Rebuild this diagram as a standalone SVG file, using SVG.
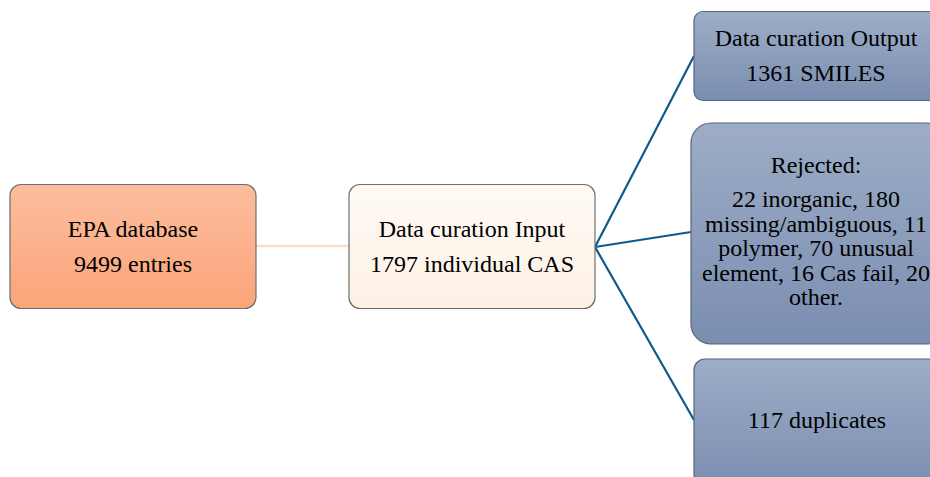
<svg xmlns="http://www.w3.org/2000/svg" width="930" height="477" viewBox="0 0 930 477">
<defs>
<linearGradient id="gOrange" x1="0" y1="0" x2="0" y2="1">
<stop offset="0" stop-color="#FDBD9D"/>
<stop offset="1" stop-color="#FBA47A"/>
</linearGradient>
<linearGradient id="gCream" x1="0" y1="0" x2="0" y2="1">
<stop offset="0" stop-color="#FFFAF5"/>
<stop offset="1" stop-color="#FDF1E5"/>
</linearGradient>
<linearGradient id="gBlue" x1="0" y1="0" x2="0" y2="1">
<stop offset="0" stop-color="#9DADC7"/>
<stop offset="1" stop-color="#7A8EB0"/>
</linearGradient>
<style>
.box{stroke:#6E6E6E;stroke-width:1.2}
.bbox{stroke:#56657D;stroke-width:1.2}
.t{font-family:"Liberation Serif","Times New Roman",serif;font-size:24px;fill:#000;text-anchor:middle}
.c{fill:none;stroke:#0F5A8C;stroke-width:2.2}
.cl{fill:none;stroke:#FADFC6;stroke-width:2.4}
</style>
</defs>
<g id="connectors">
<line class="cl" x1="256" y1="246" x2="349" y2="246"/>
<line class="c" x1="595" y1="247" x2="694" y2="56"/>
<line class="c" x1="595" y1="247" x2="691" y2="232"/>
<line class="c" x1="595" y1="247" x2="694" y2="420"/>
</g>
<g id="epa">
<rect class="box" x="10" y="184.5" width="246" height="124" rx="11" fill="url(#gOrange)"/>
<text class="t" x="133" y="237">EPA database</text>
<text class="t" x="133" y="272">9499 entries</text>
</g>
<g id="input">
<rect class="box" x="349" y="184.5" width="246" height="124" rx="11" fill="url(#gCream)"/>
<text class="t" x="472" y="237">Data curation Input</text>
<text class="t" x="472" y="272">1797 individual CAS</text>
</g>
<g id="output">
<rect class="bbox" x="694" y="11.5" width="250" height="89" rx="9" fill="url(#gBlue)"/>
<text class="t" x="816" y="46">Data curation Output</text>
<text class="t" x="816" y="81">1361 SMILES</text>
</g>
<g id="rejected">
<rect class="bbox" x="691" y="123" width="255" height="221" rx="20" fill="url(#gBlue)"/>
<text class="t" x="816" y="173">Rejected:</text>
<text class="t" x="816" y="207">22 inorganic, 180</text>
<text class="t" x="816" y="231.5">missing/ambiguous, 11</text>
<text class="t" x="816" y="256">polymer, 70 unusual</text>
<text class="t" x="816" y="280.5">element, 16 Cas fail, 20</text>
<text class="t" x="816" y="305">other.</text>
</g>
<g id="duplicates">
<rect class="bbox" x="694" y="359" width="250" height="130" rx="11" fill="url(#gBlue)"/>
<text class="t" x="817" y="428">117 duplicates</text>
</g>
</svg>
